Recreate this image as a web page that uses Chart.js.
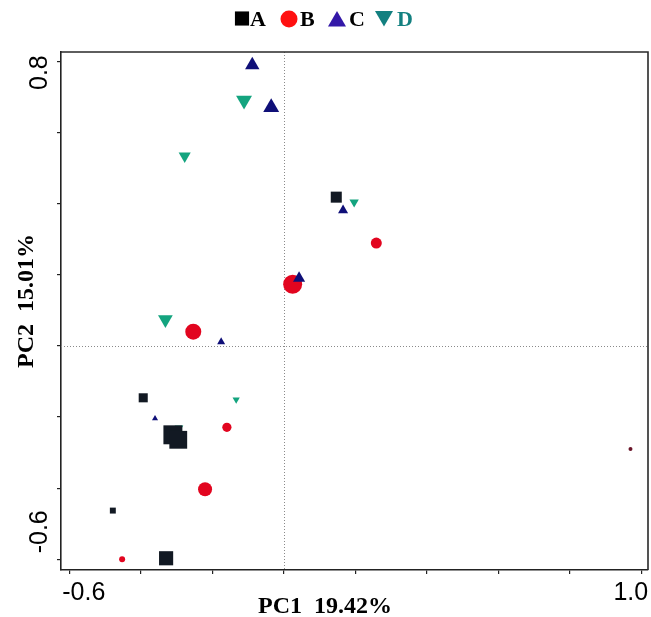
<!DOCTYPE html>
<html>
<head>
<meta charset="utf-8">
<script src="https://cdn.jsdelivr.net/npm/chart.js@4/dist/chart.umd.min.js"></script>
<style>
  html, body { margin: 0; padding: 0; background: #ffffff; }
  #wrap { width: 651px; height: 617px; position: relative; }
</style>
</head>
<body>
<div id="wrap"><canvas id="c" width="651" height="617"></canvas></div>
<script>
// ---------- data ----------
const seriesNames = ['A', 'B', 'C', 'D'];

const aX = [0.147, -0.393, -0.310, -0.295, -0.478, -0.329];
const aY = [0.418, -0.146, -0.250, -0.264, -0.463, -0.597];
const aSize = [7.8, 6.4, 13.4, 12.6, 4.2, 10.0];

const bX = [0.259, 0.025, -0.253, -0.159, -0.220, -0.452, 0.970];
const bY = [0.289, 0.173, 0.040, -0.229, -0.403, -0.600, -0.290];
const bSize = [5.5, 9.5, 8.0, 4.6, 7.0, 3.0, 2.0];

const cX = [-0.088, -0.035, 0.166, 0.043, -0.175, -0.360];
const cY = [0.789, 0.670, 0.381, 0.190, 0.011, -0.204];
const cSize = [8.3, 9.2, 5.8, 7.0, 4.6, 3.5];

const dX = [-0.111, -0.277, 0.197, -0.331, -0.133, -0.293];
const dY = [0.690, 0.534, 0.404, 0.074, -0.151, -0.231];
const dSize = [9.2, 7.0, 5.4, 8.5, 4.2, 5.0];

const xTickLabels = [-0.6, 1.0];
const yTickLabels = [0.8, -0.6];
const xTitle = 'PC1  19.42%';
const yTitle = 'PC2  15.01%';

// ---------- build ----------
function pts(xs, ys) { return xs.map((x, i) => ({ x: x, y: ys[i] })); }

const colA = '#121923', colB = '#e2051f', colC = '#0f0f78', colD = '#14a47f';
const bColors = bX.map((v, i) => i === bX.length - 1 ? '#6a1428' : colB);

const datasets = [
  { label: seriesNames[0], data: pts(aX, aY), pointStyle: 'rect', pointRadius: aSize,
    backgroundColor: colA, borderColor: colA, borderWidth: 0, order: 0 },
  { label: seriesNames[1], data: pts(bX, bY), pointStyle: 'circle', pointRadius: bSize,
    backgroundColor: bColors, borderColor: bColors, borderWidth: 0, order: 2 },
  { label: seriesNames[2], data: pts(cX, cY), pointStyle: 'triangle', pointRadius: cSize,
    backgroundColor: colC, borderColor: colC, borderWidth: 0, order: 1 },
  { label: seriesNames[3], data: pts(dX, dY), pointStyle: 'triangle', rotation: 180, pointRadius: dSize,
    backgroundColor: colD, borderColor: colD, borderWidth: 0, order: 3 }
];

const legendStyle = [
  { style: 'rect', rot: 0, r: 10, color: '#000000', cx: 242, cy: 18.5, tx: 250, textColor: '#000000' },
  { style: 'circle', rot: 0, r: 8.5, color: '#ff1010', cx: 289, cy: 19, tx: 300, textColor: '#000000' },
  { style: 'triangle', rot: 0, r: 10.4, color: '#3318a8', cx: 337, cy: 21.4, tx: 349, textColor: '#000000' },
  { style: 'triangle', rot: 180, r: 10.4, color: '#138080', cx: 384, cy: 16.2, tx: 397, textColor: '#138080' }
];

const decor = {
  id: 'decor',
  beforeDatasetsDraw(chart) {
    const ctx = chart.ctx, a = chart.chartArea;
    const xs = chart.scales.x, ys = chart.scales.y;
    ctx.save();
    ctx.strokeStyle = '#8a8a8a';
    ctx.lineWidth = 1;
    ctx.setLineDash([1, 2]);
    const x0 = Math.round(xs.getPixelForValue(0)) + 0.5;
    const y0 = Math.round(ys.getPixelForValue(0)) + 0.5;
    ctx.beginPath();
    ctx.moveTo(x0, a.top); ctx.lineTo(x0, a.bottom);
    ctx.moveTo(a.left, y0); ctx.lineTo(a.right, y0);
    ctx.stroke();
    ctx.restore();
  },
  afterDraw(chart) {
    const ctx = chart.ctx, a = chart.chartArea;
    const xs = chart.scales.x, ys = chart.scales.y;
    ctx.save();
    // frame (top & right)
    ctx.strokeStyle = '#2a2a2a';
    ctx.lineWidth = 1.6;
    ctx.beginPath();
    ctx.moveTo(a.left, a.top); ctx.lineTo(a.right, a.top); ctx.lineTo(a.right, a.bottom);
    ctx.stroke();

    // x tick labels
    ctx.fillStyle = '#000';
    ctx.font = '25px "Liberation Sans", Arial, sans-serif';
    ctx.textBaseline = 'alphabetic';
    xTickLabels.forEach((v, i) => {
      const px = xs.getPixelForValue(v);
      const txt = v.toFixed(1);
      if (i === 0) { ctx.textAlign = 'left'; ctx.fillText(txt, px - 7, 600); }
      else { ctx.textAlign = 'right'; ctx.fillText(txt, px + 7, 600); }
    });
    // y tick labels (rotated)
    yTickLabels.forEach((v, i) => {
      const py = ys.getPixelForValue(v);
      const txt = v.toFixed(1);
      ctx.save();
      ctx.translate(47, py - 6);
      ctx.rotate(-Math.PI / 2);
      ctx.textAlign = i === 0 ? 'right' : 'left';
      ctx.fillText(txt, 0, 0);
      ctx.restore();
    });

    // axis titles
    ctx.font = 'bold 24px "Liberation Serif", "Times New Roman", serif';
    ctx.textAlign = 'center';
    ctx.fillText(xTitle, 325, 613);
    ctx.save();
    ctx.translate(33, 301);
    ctx.rotate(-Math.PI / 2);
    ctx.fillText(yTitle, 0, 0);
    ctx.restore();

    // legend
    ctx.font = 'bold 22px "Liberation Serif", "Times New Roman", serif';
    ctx.textAlign = 'left';
    chart.data.datasets.forEach((ds, i) => {
      const L = legendStyle[i];
      ctx.fillStyle = L.color;
      ctx.strokeStyle = L.color;
      ctx.lineWidth = 0;
      Chart.helpers.drawPoint(ctx, { pointStyle: L.style, rotation: L.rot, radius: L.r, borderWidth: 0 }, L.cx, L.cy);
      ctx.fillStyle = L.textColor;
      ctx.fillText(ds.label, L.tx, 26);
    });
    ctx.restore();
  }
};

const axisCommon = {
  type: 'linear',
  grid: { display: true, drawOnChartArea: false, drawTicks: true, tickLength: 4, color: '#222', lineWidth: 1.2 },
  border: { display: true, color: '#222', width: 1.6 },
  title: { display: false }
};

new Chart(document.getElementById('c'), {
  type: 'scatter',
  data: { datasets: datasets },
  options: {
    responsive: false,
    animation: false,
    devicePixelRatio: 1,
    layout: { autoPadding: false, padding: { top: 52, right: 3, left: 0, bottom: 0 } },
    plugins: { legend: { display: false }, tooltip: { enabled: false } },
    scales: {
      x: Object.assign({}, axisCommon, {
        min: -0.623, max: 1.019,
        ticks: { display: false, stepSize: 0.2, includeBounds: false },
        afterFit(s) { s.height = 47; }
      }),
      y: Object.assign({}, axisCommon, {
        min: -0.63, max: 0.826,
        ticks: { display: false, stepSize: 0.2, includeBounds: false },
        afterFit(s) { s.width = 61; }
      })
    }
  },
  plugins: [decor]
});
</script>
</body>
</html>
